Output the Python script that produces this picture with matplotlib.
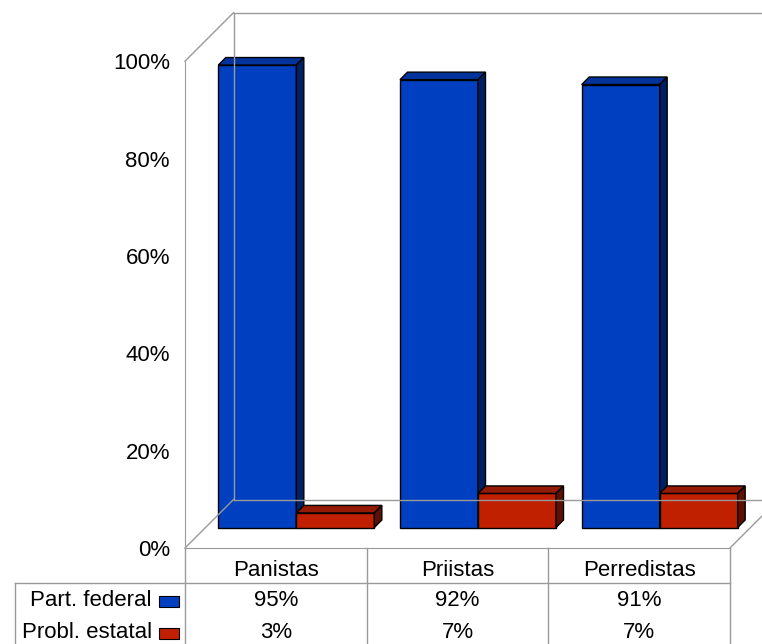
import matplotlib.pyplot as plt
from matplotlib.patches import Polygon, Rectangle
from matplotlib.lines import Line2D

# data
categories = ["Panistas", "Priistas", "Perredistas"]
series_names = ["Part. federal", "Probl. estatal"]
federal = [95, 92, 91]
estatal = [3, 7, 7]
ytick_vals = [0, 20, 40, 60, 80, 100]
ytick_labels = ["0%", "20%", "40%", "60%", "80%", "100%"]

plt.rcParams['font.family'] = ['Liberation Sans', 'DejaVu Sans']
FS = 16
GRID = "#9a9a9a"
faces = {
    "blue": ("#0040C0", "#00339C", "#002066"),
    "red": ("#C02000", "#941A04", "#5E1004"),
}

W, H = 762, 644
fig = plt.figure(figsize=(W / 100, H / 100), dpi=100)

# front plane of the 3d box in pixels
x0, x1 = 185, 730
yb, yt = 548, 61.2
ax = fig.add_axes([x0 / W, 1 - yb / H, (x1 - x0) / W, (yb - yt) / H])
ax.set_xlim(-0.5, 2.5)
ax.set_ylim(0, 100)
sx = 3.0 / (x1 - x0)   # data units per pixel
sy = 100.0 / (yb - yt)

D = 48.5     # box depth (px)
F = 20.5     # bar front plane depth (px)
d = 7.5      # bar depth (px)
bw = 78 * sx

def line(xs, ys, **kw):
    ax.add_line(Line2D(xs, ys, color=GRID, lw=1, clip_on=False, **kw))

# walls and floor
xl, xr = -0.5, 2.5
line([xl + D * sx] * 2, [D * sy, 100 + D * sy])
line([xl + D * sx, xr + D * sx], [100 + D * sy] * 2)
line([xl + D * sx, xr + D * sx], [D * sy] * 2)
line([xl, xl + D * sx], [100, 100 + D * sy])
line([xl, xl + D * sx], [0, D * sy])
line([xr, xr + D * sx], [0, D * sy])

for s in ["top", "right"]:
    ax.spines[s].set_visible(False)
for s in ["left", "bottom"]:
    ax.spines[s].set_color(GRID)
ax.set_xticks([])
ax.set_yticks(ytick_vals, ytick_labels, fontsize=FS)
ax.tick_params(axis="y", length=0, pad=10.8)
for lab in ax.get_yticklabels():
    lab.set_va("center_baseline")
ax.patch.set_visible(False)


def bar3d(xa, xb, h, cols):
    fx, fy, dx, dy = F * sx, F * sy, d * sx, d * sy
    front = [(xa + fx, fy), (xb + fx, fy), (xb + fx, h + fy), (xa + fx, h + fy)]
    top = [(xa + fx, h + fy), (xb + fx, h + fy), (xb + fx + dx, h + fy + dy), (xa + fx + dx, h + fy + dy)]
    side = [(xb + fx, fy), (xb + fx + dx, fy + dy), (xb + fx + dx, h + fy + dy), (xb + fx, h + fy)]
    for pts, c in zip([front, top, side], cols):
        ax.add_patch(Polygon(pts, closed=True, facecolor=c, edgecolor="black", lw=1, clip_on=False))


for i in range(len(categories)):
    bar3d(i - bw, i, federal[i], faces["blue"])
    bar3d(i, i + bw, estatal[i], faces["red"])

# data table below
def ya(p):
    return (yb - p) / (yb - yt)

tx = ax.get_xaxis_transform()
for i, cat in enumerate(categories):
    ax.text(i, ya(570), cat, transform=tx, ha="center", va="center", fontsize=FS)
    ax.text(i, ya(601), f"{federal[i]}%", transform=tx, ha="center", va="center", fontsize=FS)
    ax.text(i, ya(633), f"{estatal[i]}%", transform=tx, ha="center", va="center", fontsize=FS)

for xv in [-0.5, 0.5, 1.5, 2.5]:
    ax.add_line(Line2D([xv, xv], [ya(548), ya(660)], transform=tx, color=GRID, lw=1, clip_on=False))
ax.add_line(Line2D([-0.5 + (15 - x0) * sx, 2.5], [ya(583)] * 2, transform=tx, color=GRID, lw=1, clip_on=False))
ax.add_line(Line2D([-0.5 + (15 - x0) * sx] * 2, [ya(583), ya(660)], transform=tx, color=GRID, lw=1, clip_on=False))

for name, ypx, key in zip(series_names, [601, 633], ["blue", "red"]):
    ax.text(-0.5 + (152 - x0) * sx, ya(ypx), name, transform=tx, ha="right", va="center", fontsize=FS)
    ax.add_patch(Rectangle((-0.5 + (159 - x0) * sx, ya(ypx + 5.5)), 20 * sx, 11 / (yb - yt),
                           transform=tx, facecolor=faces[key][0], edgecolor="black", lw=0.8, clip_on=False))

fig.savefig("out.png", dpi=100)
